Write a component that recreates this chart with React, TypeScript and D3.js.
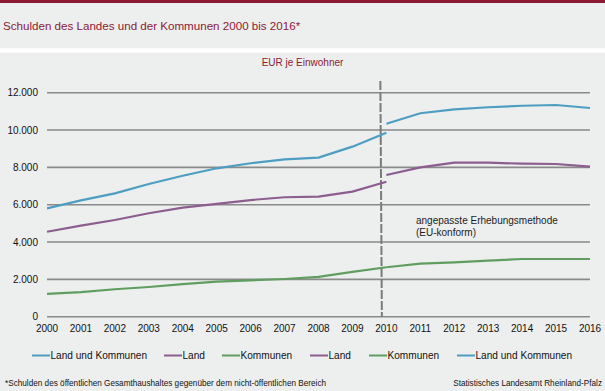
import React from "react";
import * as d3 from "d3";

const yearsOld = [2000, 2001, 2002, 2003, 2004, 2005, 2006, 2007, 2008, 2009, 2010];
const landKommOld = [5800, 6230, 6610, 7110, 7550, 7950, 8220, 8430, 8520, 9110, 9860];
const landOld = [4550, 4880, 5180, 5540, 5840, 6040, 6250, 6400, 6430, 6700, 7230];
const kommOld = [1220, 1320, 1470, 1590, 1750, 1880, 1950, 2020, 2130, 2400, 2650];

const yearsNew = [2010, 2011, 2012, 2013, 2014, 2015, 2016];
const landNew = [7590, 8000, 8250, 8250, 8200, 8180, 8040];
const kommNew = [2650, 2840, 2910, 3000, 3090, 3090, 3090];
const landKommNew = [10340, 10900, 11110, 11220, 11300, 11340, 11180];

const yTicks = [0, 2000, 4000, 6000, 8000, 10000, 12000];
const xTicks = [2000, 2001, 2002, 2003, 2004, 2005, 2006, 2007, 2008, 2009, 2010, 2011, 2012, 2013, 2014, 2015, 2016];

const legendLabels = ["Land und Kommunen", "Land", "Kommunen", "Land", "Kommunen", "Land und Kommunen"];

const title = "Schulden des Landes und der Kommunen 2000 bis 2016*";
const unitLabel = "EUR je Einwohner";
const noteLines = ["angepasste Erhebungsmethode", "(EU-konform)"];
const footnote = "*Schulden des öffentlichen Gesamthaushaltes gegenüber dem nicht-öffentlichen Bereich";
const source = "Statistisches Landesamt Rheinland-Pfalz";

const BLUE = "#4e9dc3";
const PURPLE = "#8c5e8f";
const GREEN = "#5f9e60";
const RED = "#8b1a35";
const BG = "#edefee";
const GRID = "#8a8a8a";
const FONT = "'Liberation Sans', Arial, sans-serif";

export default function App() {
  const W = 605, H = 391;
  const x = d3.scaleLinear().domain([2000, 2016]).range([47, 590]);
  const y = d3.scaleLinear().domain([0, 12000]).range([316.7, 92.7]);
  const line = d3.line<[number, number]>().x(d => x(d[0])).y(d => y(d[1]));

  const series = [
    { years: yearsOld, values: landKommOld, color: BLUE },
    { years: yearsOld, values: landOld, color: PURPLE },
    { years: yearsOld, values: kommOld, color: GREEN },
    { years: yearsNew, values: landNew, color: PURPLE },
    { years: yearsNew, values: kommNew, color: GREEN },
    { years: yearsNew, values: landKommNew, color: BLUE },
  ];
  const legendColors = [BLUE, PURPLE, GREEN, PURPLE, GREEN, BLUE];
  const legendX = [32, 164, 222, 310, 369, 457];

  const breakX = x(2010) - 6;

  return (
    <svg width={W} height={H} style={{ position: "absolute", left: 0, top: 0, fontFamily: FONT }}>
      <rect x={0} y={0} width={W} height={H} fill={BG} />
      <rect x={0} y={0} width={W} height={3} fill={RED} />
      <rect x={0} y={48.3} width={W} height={4.4} fill="#ffffff" />
      <text x={3} y={29.5} fontSize={11.6} fill={RED}>{title}</text>
      <text x={302.5} y={66} fontSize={10} fill={RED} textAnchor="middle">{unitLabel}</text>

      {yTicks.map(t => (
        <g key={t}>
          <line x1={x(2000)} x2={x(2016)} y1={y(t)} y2={y(t)} stroke={GRID} strokeWidth={1.6} />
          <text x={38} y={y(t) + 3.5} fontSize={10} textAnchor="end" fill="#111">
            {t === 0 ? "0" : d3.format(",")(t).replace(/,/g, ".")}
          </text>
        </g>
      ))}
      {xTicks.map(t => (
        <text key={t} x={x(t)} y={331.5} fontSize={10} textAnchor="middle" fill="#111">{t}</text>
      ))}

      <line x1={breakX} x2={breakX + 1.5} y1={81} y2={317} stroke="#7a7a7a" strokeWidth={2} strokeDasharray="9,2" />

      {series.map((s, i) => (
        <path key={i} d={line(s.years.map((yr, j) => [yr, s.values[j]] as [number, number])) || ""}
          fill="none" stroke={s.color} strokeWidth={2.2} />
      ))}

      {noteLines.map((t, i) => (
        <text key={i} x={416} y={223.5 + i * 12} fontSize={10} fill="#222">{t}</text>
      ))}

      {legendLabels.map((lab, i) => (
        <g key={i}>
          <line x1={legendX[i]} x2={legendX[i] + 18} y1={355.5} y2={355.5} stroke={legendColors[i]} strokeWidth={2} />
          <text x={legendX[i] + 18.5} y={359.2} fontSize={10.1} fill="#111">{lab}</text>
        </g>
      ))}

      <text x={5} y={386} fontSize={8.2} fill="#111">{footnote}</text>
      <text x={602} y={386} fontSize={8.2} fill="#111" textAnchor="end">{source}</text>
    </svg>
  );
}
